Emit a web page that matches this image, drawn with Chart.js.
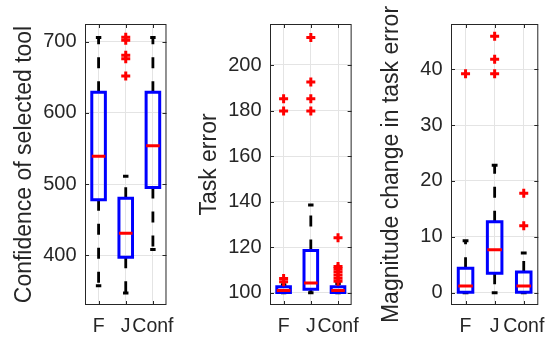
<!DOCTYPE html>
<html>
<head>
<meta charset="utf-8">
<script src="https://cdn.jsdelivr.net/npm/chart.js@4/dist/chart.umd.min.js"></script>
<style>
  html, body { margin: 0; padding: 0; background: #fff; }
  #wrap { position: relative; width: 556px; height: 339px; overflow: hidden; }
  canvas { position: absolute; top: 0; }
</style>
</head>
<body>
<div id="wrap">
  <canvas id="c1" width="185" height="339" style="left:0px"></canvas>
  <canvas id="c2" width="185" height="339" style="left:185px"></canvas>
  <canvas id="c3" width="186" height="339" style="left:370px"></canvas>
</div>
<script>
// ---------- data ----------
const categories = ['F', 'J', 'Conf'];
const xTicks = [1, 2, 3];

// Panel 1: Confidence of selected tool
const confTitle = 'Confidence of selected tool';
const confLowerWhisker = [357, 347, 408];
const confQ1 = [478, 397, 495];
const confMedian = [539, 431, 554];
const confQ3 = [629, 480, 629];
const confUpperWhisker = [706, 511, 706];
const confOutliers = [[], [706.5, 702, 681, 676, 652], []];
const confYTicks = [400, 500, 600, 700];
const confYRange = [330, 725];

// Panel 2: Task error
const errTitle = 'Task error';
const errLowerWhisker = [100, 100, 100];
const errQ1 = [100.1, 101.5, 100.1];
const errMedian = [101, 104.3, 101];
const errQ3 = [102.6, 118.5, 102.6];
const errUpperWhisker = [103.5, 138.5, 104];
const errOutliers = [[104.8, 106.2, 179.8, 185.2], [179.8, 185.2, 192.5, 212.1], [105, 106.3, 107.8, 109.2, 110.5, 111.5, 124.1]];
const errYTicks = [100, 120, 140, 160, 180, 200];
const errYRange = [94.6, 218];

// Panel 3: Magnitude change in task error
const magTitle = 'Magnitude change in task error';
const magLowerWhisker = [0, 0, 0];
const magQ1 = [0.1, 3.5, 0.1];
const magMedian = [1.2, 7.7, 1.2];
const magQ3 = [4.4, 12.7, 3.7];
const magUpperWhisker = [9.3, 22.8, 7.1];
const magOutliers = [[39.2], [39.2, 41.8, 45.9], [12.0, 17.8]];
const magYTicks = [0, 10, 20, 30, 40];
const magYRange = [-2.2, 48.1];

// ---------- styles ----------
const FONT = '"Liberation Sans", Arial, Helvetica, sans-serif';
const TEXT = '#262626';
const GRID = '#e4e4e4';
const BOX_HALF = 0.25;
const CAP_HALF = 0.1;

const framePlugin = {
  id: 'frame',
  afterDatasetsDraw(chart) {
    const { ctx, chartArea: a, scales } = chart;
    const x = scales.x, y = scales.y;
    ctx.save();
    ctx.strokeStyle = TEXT;
    ctx.lineWidth = 1;
    ctx.beginPath();
    x.ticks.forEach(t => {
      const px = Math.round(x.getPixelForValue(t.value)) + 0.5;
      ctx.moveTo(px, a.bottom); ctx.lineTo(px, a.bottom - 4);
      ctx.moveTo(px, a.top); ctx.lineTo(px, a.top + 4);
    });
    y.ticks.forEach(t => {
      const py = Math.round(y.getPixelForValue(t.value)) + 0.5;
      ctx.moveTo(a.left, py); ctx.lineTo(a.left + 4, py);
      ctx.moveTo(a.right, py); ctx.lineTo(a.right - 4, py);
    });
    ctx.stroke();
    ctx.strokeRect(a.left + 0.5, a.top + 0.5, a.right - a.left - 1, a.bottom - a.top - 1);
    ctx.restore();
  }
};

function lineDs(points, color, width, order, dash, cap) {
  return {
    data: points, showLine: true, borderColor: color, borderWidth: width,
    pointRadius: 0, pointHoverRadius: 0, fill: false, tension: 0, order: order,
    borderDash: dash || [], borderCapStyle: cap || 'butt', borderJoinStyle: 'miter'
  };
}

function buildDatasets(lw, q1, med, q3, uw, outs) {
  const ds = [];
  for (let i = 0; i < categories.length; i++) {
    const x = xTicks[i];
    // whiskers (dashed, from box edge outward)
    ds.push(lineDs([{ x: x, y: q3[i] }, { x: x, y: uw[i] }], '#000000', 2.8, 5, [11, 13]));
    ds.push(lineDs([{ x: x, y: q1[i] }, { x: x, y: lw[i] }], '#000000', 2.8, 5, [11, 13]));
    // caps
    ds.push(lineDs([{ x: x - CAP_HALF, y: uw[i] }, { x: x + CAP_HALF, y: uw[i] }], '#000000', 3, 4));
    ds.push(lineDs([{ x: x - CAP_HALF, y: lw[i] }, { x: x + CAP_HALF, y: lw[i] }], '#000000', 3, 4));
    // box
    ds.push(lineDs([
      { x: x - BOX_HALF, y: q1[i] }, { x: x + BOX_HALF, y: q1[i] },
      { x: x + BOX_HALF, y: q3[i] }, { x: x - BOX_HALF, y: q3[i] },
      { x: x - BOX_HALF, y: q1[i] }
    ], '#0000ff', 3, 3, [], 'square'));
    // median
    ds.push(lineDs([{ x: x - BOX_HALF, y: med[i] }, { x: x + BOX_HALF, y: med[i] }], '#ff0000', 3, 2));
    // outliers
    ds.push({
      data: outs[i].map(v => ({ x: x, y: v })), showLine: false,
      pointStyle: 'cross', pointRadius: 4.5, pointHoverRadius: 4.5,
      pointBorderColor: '#ff0000', borderColor: '#ff0000', pointBorderWidth: 3, order: 1
    });
  }
  return ds;
}

function makeChart(id, cfg) {
  new Chart(document.getElementById(id), {
    type: 'scatter',
    data: { datasets: buildDatasets(cfg.lw, cfg.q1, cfg.med, cfg.q3, cfg.uw, cfg.outs) },
    plugins: [framePlugin],
    options: {
      responsive: false, animation: false, devicePixelRatio: 1,
      events: [],
      layout: { padding: { top: 24, right: cfg.rightPad, bottom: 0, left: 0 } },
      plugins: { legend: { display: false }, tooltip: { enabled: false } },
      scales: {
        x: {
          type: 'linear', min: 0.5, max: 3.5,
          afterBuildTicks: s => { s.ticks = xTicks.map(v => ({ value: v })); },
          afterFit: s => { s.height = 34; },
          grid: { color: GRID, lineWidth: 1, drawTicks: false },
          border: { display: false },
          ticks: {
            autoSkip: false, maxRotation: 0, minRotation: 0, padding: 10,
            color: TEXT, font: { family: FONT, size: 19.5 },
            callback: v => categories[xTicks.indexOf(v)]
          }
        },
        y: {
          type: 'linear', min: cfg.yRange[0], max: cfg.yRange[1],
          afterBuildTicks: s => { s.ticks = cfg.yTicks.map(v => ({ value: v })); },
          afterFit: s => { s.width = cfg.yWidth; },
          grid: { color: GRID, lineWidth: 1, drawTicks: false },
          border: { display: false },
          ticks: { padding: 8.5, color: TEXT, font: { family: FONT, size: 20 } },
          title: {
            display: true, text: cfg.title, color: TEXT,
            font: { family: FONT, size: 23 }, padding: { top: cfg.titlePad, bottom: 0 }
          }
        }
      }
    }
  });
}

makeChart('c1', { lw: confLowerWhisker, q1: confQ1, med: confMedian, q3: confQ3, uw: confUpperWhisker,
  outs: confOutliers, yTicks: confYTicks, yRange: confYRange, title: confTitle,
  yWidth: 85, rightPad: 9, titlePad: 11.2 });
makeChart('c2', { lw: errLowerWhisker, q1: errQ1, med: errMedian, q3: errQ3, uw: errUpperWhisker,
  outs: errOutliers, yTicks: errYTicks, yRange: errYRange, title: errTitle,
  yWidth: 85, rightPad: 8.3, titlePad: 11.2 });
makeChart('c3', { lw: magLowerWhisker, q1: magQ1, med: magMedian, q3: magQ3, uw: magUpperWhisker,
  outs: magOutliers, yTicks: magYTicks, yRange: magYRange, title: magTitle,
  yWidth: 81, rightPad: 10, titlePad: 7.9 });
</script>
</body>
</html>
